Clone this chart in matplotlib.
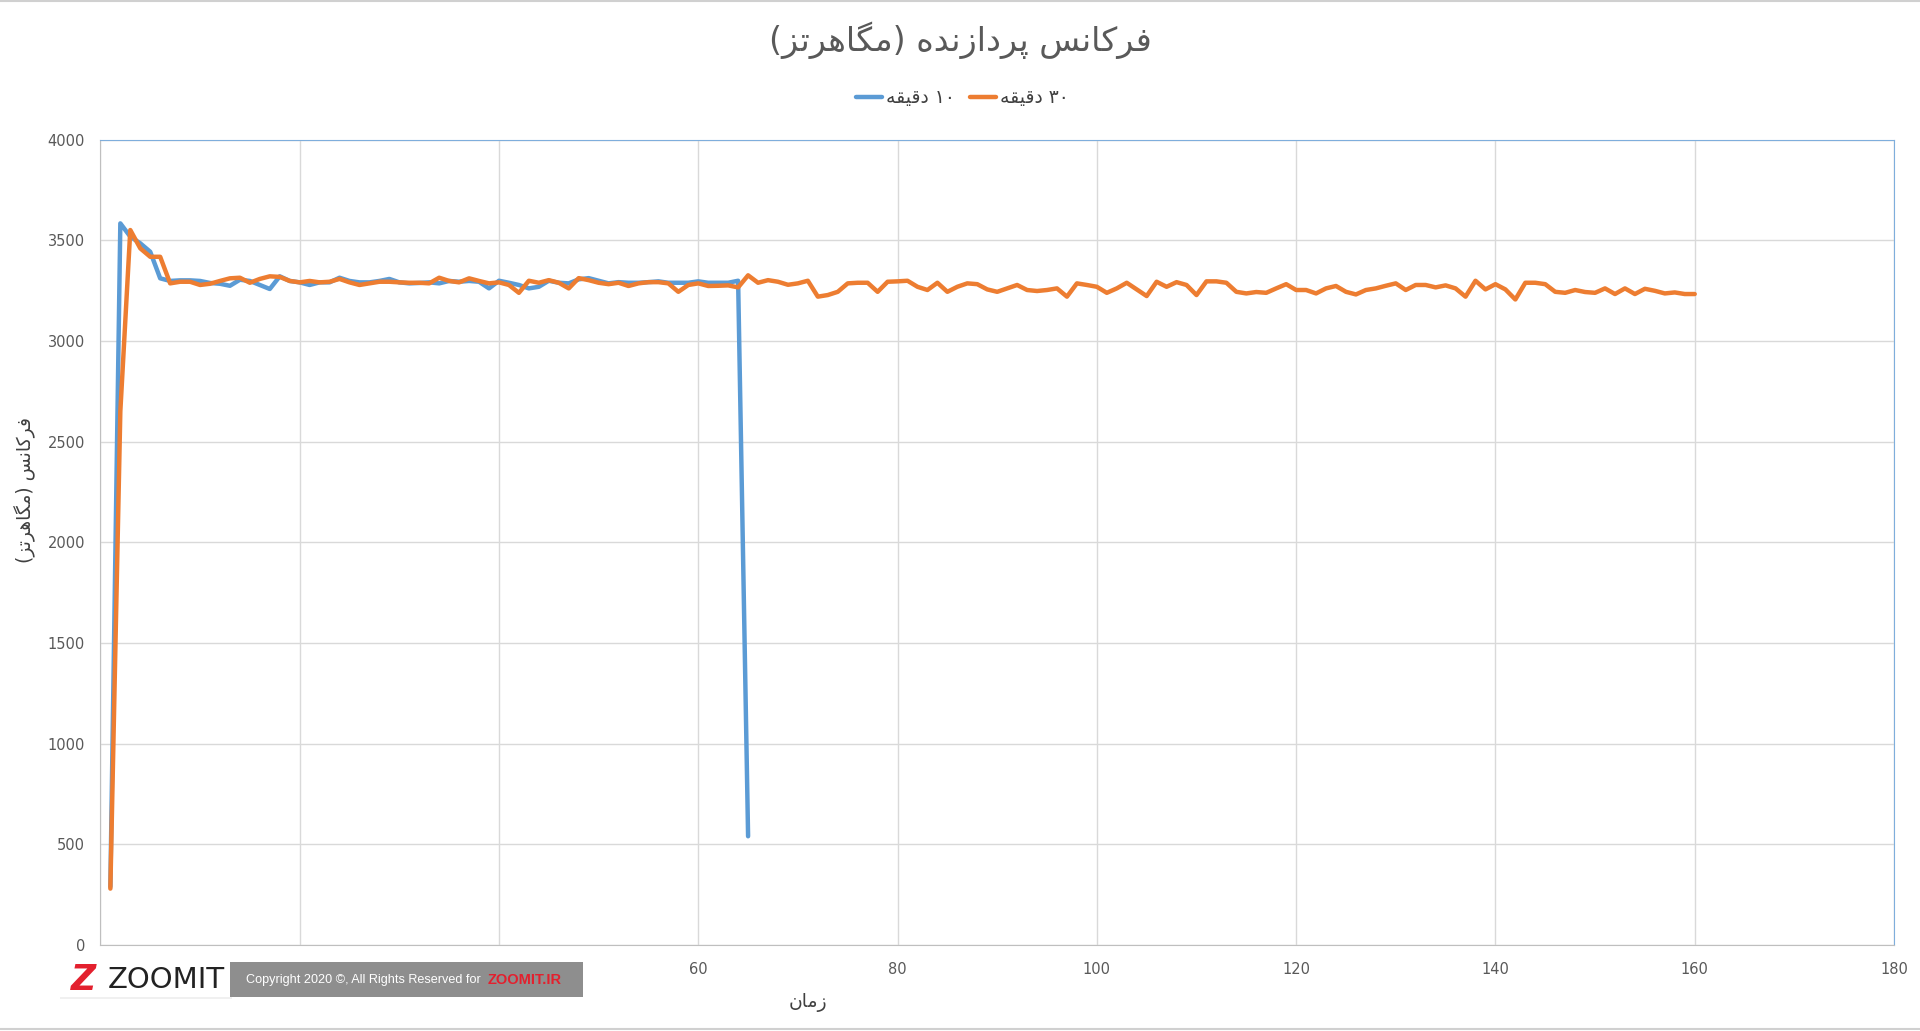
import matplotlib
matplotlib.use("Agg")
import matplotlib.pyplot as plt
from matplotlib.patches import Rectangle
from itertools import groupby

# persian text: matplotlib has no shaping, so pick presentation forms by hand
FORMS = {
    'ف': ('\uFED1', '\uFED2', '\uFED3', '\uFED4'),
    'ر': ('\uFEAD', '\uFEAE', None, None),
    'ک': ('\uFB8E', '\uFB8F', '\uFB90', '\uFB91'),
    'ا': ('\uFE8D', '\uFE8E', None, None),
    'ن': ('\uFEE5', '\uFEE6', '\uFEE7', '\uFEE8'),
    'س': ('\uFEB1', '\uFEB2', '\uFEB3', '\uFEB4'),
    'پ': ('\uFB56', '\uFB57', '\uFB58', '\uFB59'),
    'د': ('\uFEA9', '\uFEAA', None, None),
    'ز': ('\uFEAF', '\uFEB0', None, None),
    'ه': ('\uFEE9', '\uFEEA', '\uFEEB', '\uFEEC'),
    'م': ('\uFEE1', '\uFEE2', '\uFEE3', '\uFEE4'),
    'گ': ('\uFB92', '\uFB93', '\uFB94', '\uFB95'),
    'ت': ('\uFE95', '\uFE96', '\uFE97', '\uFE98'),
    'ق': ('\uFED5', '\uFED6', '\uFED7', '\uFED8'),
    'ی': ('\uFBFC', '\uFBFD', '\uFBFE', '\uFBFF'),
}


def fa(s):
    out = []
    for i, ch in enumerate(s):
        if ch not in FORMS:
            out.append(ch)
            continue
        f = FORMS[ch]
        prev = s[i - 1] if i > 0 else ''
        nxt = s[i + 1] if i + 1 < len(s) else ''
        p = prev in FORMS and FORMS[prev][2] is not None
        n = f[2] is not None and nxt in FORMS
        out.append(f[3] if p and n else f[1] if p else f[2] if n else f[0])
    vis = ''.join(out)[::-1].translate(str.maketrans('()', ')('))
    runs = [''.join(g) for k, g in groupby(vis, str.isdigit)]
    return ''.join(r[::-1] if r[0].isdigit() else r for r in runs)


title = 'فرکانس پردازنده (مگاهرتز)'
ylabel = 'فرکانس (مگاهرتز)'
xlabel = 'زمان'
label_10 = '۱۰ دقیقه'
label_30 = '۳۰ دقیقه'

x_10 = list(range(1, 66))
freq_10 = [290, 3584, 3518, 3485, 3443, 3311, 3298, 3301, 3301, 3298,
           3288, 3284, 3274, 3304, 3298, 3278, 3258, 3321, 3298, 3291,
           3278, 3291, 3291, 3314, 3298, 3291, 3291, 3298, 3308, 3291,
           3286, 3288, 3291, 3286, 3298, 3294, 3298, 3294, 3261, 3299,
           3289, 3278, 3261, 3269, 3299, 3289, 3286, 3306, 3312, 3299,
           3286, 3292, 3289, 3289, 3292, 3296, 3289, 3289, 3289, 3296,
           3289, 3289, 3289, 3299, 540]

x_30 = list(range(1, 161))
freq_30 = [280, 2650, 3551, 3460, 3418, 3418, 3286, 3294, 3294, 3278,
           3284, 3298, 3311, 3314, 3289, 3308, 3321, 3318, 3298, 3291,
           3298, 3291, 3294, 3308, 3291, 3278, 3286, 3294, 3294, 3291,
           3289, 3289, 3286, 3314, 3298, 3291, 3311, 3298, 3286, 3291,
           3278, 3239, 3299, 3289, 3302, 3289, 3261, 3312, 3302, 3289,
           3282, 3289, 3273, 3286, 3292, 3292, 3286, 3244, 3278, 3286,
           3273, 3274, 3276, 3266, 3326, 3289, 3302, 3294, 3279, 3286,
           3299, 3220, 3228, 3244, 3286, 3289, 3289, 3244, 3294, 3296,
           3299, 3269, 3253, 3289, 3244, 3269, 3286, 3282, 3256, 3244,
           3261, 3278, 3253, 3248, 3253, 3261, 3220, 3286, 3278, 3269,
           3239, 3261, 3289, 3256, 3223, 3294, 3269, 3292, 3278, 3228,
           3296, 3296, 3289, 3244, 3236, 3243, 3239, 3261, 3282, 3253,
           3253, 3236, 3261, 3273, 3244, 3231, 3253, 3261, 3274, 3286,
           3253, 3278, 3278, 3266, 3276, 3261, 3220, 3299, 3256, 3282,
           3256, 3206, 3289, 3289, 3282, 3244, 3239, 3253, 3243, 3239,
           3261, 3233, 3261, 3233, 3259, 3249, 3236, 3241, 3233, 3233]

W, H = 1920, 1031
plt.rcParams['font.family'] = ['DejaVu Sans']
fig = plt.figure(figsize=(W / 100, H / 100), dpi=100)
ax = fig.add_axes([100.4 / W, 1 - 945 / H, (1894 - 100.4) / W, (945 - 139.6) / H])

ax.plot(x_10, freq_10, color='#5B9BD5', lw=3.2, label=fa(label_10), solid_joinstyle='round', solid_capstyle='round')
ax.plot(x_30, freq_30, color='#ED7D31', lw=3.2, label=fa(label_30), solid_joinstyle='round', solid_capstyle='round')

ax.set_xlim(0, 180)
ax.set_ylim(0, 4000)
ax.set_xticks(range(0, 181, 20))
ax.set_yticks(range(0, 4001, 500))
ax.grid(True, color='#d9d9d9', lw=1)
ax.set_axisbelow(True)
ax.tick_params(length=0, labelsize=10.5, labelcolor='#595959')
ax.tick_params(axis='y', pad=11)
ax.tick_params(axis='x', pad=12)
for s in ['left', 'bottom']:
    ax.spines[s].set_color('#bfbfbf')
for s in ['top', 'right']:
    ax.spines[s].set_color('#7FAEDC')

fig.text(960 / W, 1 - 40 / H, fa(title), ha='center', va='center', fontsize=24, color='#595959')
fig.text(25 / W, 1 - 490 / H, fa(ylabel), ha='center', va='center', rotation=90, fontsize=13.5, color='#404040')
fig.text(808 / W, 1 - 1002 / H, fa(xlabel), ha='center', va='center', fontsize=13.5, color='#404040')

fig.legend(loc='center', bbox_to_anchor=(962 / W, 1 - 98 / H), ncol=2, frameon=False,
           fontsize=13.5, handlelength=1.4, handletextpad=0.2, columnspacing=0.8,
           labelcolor='#404040')

# watermark
fig.patches.append(Rectangle((60 / W, 1 - 999 / H), 172 / W, 37 / H, transform=fig.transFigure,
                             facecolor='#000000', alpha=0.06, edgecolor='none', zorder=5))
fig.patches.append(Rectangle((59 / W, 1 - 997 / H), 171 / W, 35 / H, transform=fig.transFigure,
                             facecolor='white', edgecolor='none', zorder=6))
fig.patches.append(Rectangle((230 / W, 1 - 997 / H), 353 / W, 35 / H, transform=fig.transFigure,
                             facecolor='#8e8e8e', edgecolor='none', zorder=6))
fig.text(84 / W, 1 - 980 / H, 'Z', ha='center', va='center', fontsize=25, fontweight='bold',
         style='italic', color='#E3202E', zorder=7)
fig.text(108 / W, 1 - 980 / H, 'ZOOMIT', ha='left', va='center', fontsize=21, color='#222222', zorder=7)
fig.text(246 / W, 1 - 980 / H, 'Copyright 2020 ©, All Rights Reserved for', ha='left', va='center',
         fontsize=9.1, color='white', family=['Liberation Sans'], zorder=7)
fig.text(488 / W, 1 - 980 / H, 'ZOOMIT.IR', ha='left', va='center', fontsize=10.5, fontweight='bold',
         color='#E3202E', family=['Liberation Sans'], zorder=7)

# thin frame lines at top and bottom of the image
fig.add_artist(plt.Line2D([0, 1], [1 - 1 / H, 1 - 1 / H], transform=fig.transFigure, color='#d0d0d0', lw=1.5))
fig.add_artist(plt.Line2D([0, 1], [2 / H, 2 / H], transform=fig.transFigure, color='#d0d0d0', lw=1.5))

fig.savefig('out.png', dpi=100)
